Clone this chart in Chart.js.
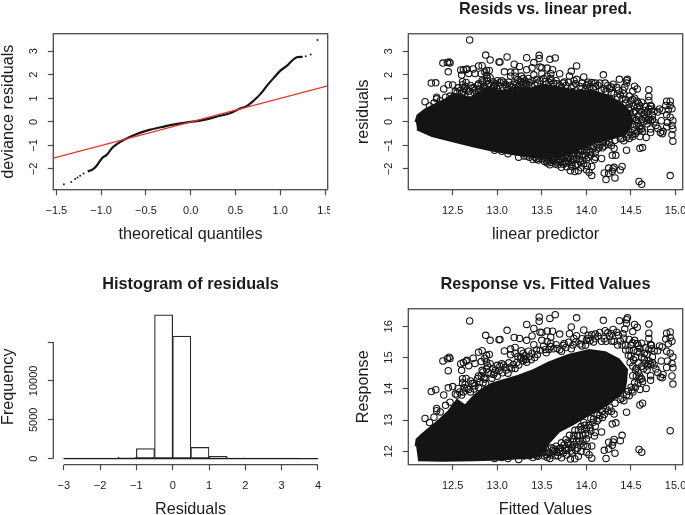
<!DOCTYPE html>
<html>
<head>
<meta charset="utf-8">
<script src="https://cdn.jsdelivr.net/npm/chart.js@4"></script>
<style>
  html, body { margin: 0; padding: 0; background: #fff; }
  body { position: relative; width: 685px; height: 515px; overflow: hidden; }
  canvas { position: absolute; filter: blur(0.35px); }
</style>
</head>
<body>
<canvas id="qq" width="330" height="245" style="left:0;top:0"></canvas>
<canvas id="resid" width="330" height="245" style="left:355px;top:0"></canvas>
<canvas id="hist" width="330" height="245" style="left:0;top:275px"></canvas>
<canvas id="resp" width="330" height="245" style="left:355px;top:275px"></canvas>
<script>
// qq plot
const qqLine = [[-1.534, -1.534], [1.53, 1.53]];
const qqCurve = [[-1.15,-2.1],[-1.097,-2.03],[-1.05,-1.86],[-0.99,-1.54],[-0.935,-1.39],[-0.88,-1.12],[-0.823,-0.94],[-0.75,-0.77],[-0.675,-0.63],[-0.56,-0.455],[-0.45,-0.33],[-0.3,-0.2],[-0.15,-0.085],[0,0],[0.146,0.085],[0.295,0.23],[0.445,0.38],[0.54,0.55],[0.63,0.68],[0.706,0.91],[0.78,1.19],[0.855,1.55],[0.93,1.88],[1.005,2.19],[1.08,2.4],[1.146,2.65],[1.19,2.75],[1.25,2.76]];
const qqTail = [[-1.416,-2.65],[-1.333,-2.55],[-1.29,-2.43],[-1.264,-2.36],[-1.234,-2.29],[-1.196,-2.19],[1.285,2.79],[1.34,2.86],[1.416,3.48]];
const qqXTicks = [-1.5,-1,-0.5,0,0.5,1,1.5];
const qqXLabels = ['−1.5','−1.0','−0.5','0.0','0.5','1.0','1.5'];
const residTicks = [-2,-1,0,1,2,3];
const residLabels = ['−2','−1','0','1','2','3'];

// shared x ticks of the two scatter panels
const predTicks = [12.5,13,13.5,14,14.5,15];
const predLabels = ['12.5','13.0','13.5','14.0','14.5','15.0'];

// histogram
const histMids = [-2.75,-2.25,-1.75,-1.25,-0.75,-0.25,0.25,0.75,1.25,1.75,2.25,2.75,3.25,3.75];
const histCounts = [2,30,60,190,1290,18500,15770,1450,300,110,40,15,1,0];
const histBase = [[-3,0],[4,0]];
const histXTicks = [-3,-2,-1,0,1,2,3,4];
const histXLabels = ['−3','−2','−1','0','1','2','3','4'];
const histYTicks = [0,5000,10000,15000];
const histYLabels = ['0','5000','10000',''];

// solid black mass of overlapping circles, outlines
const residMass = [[12.088,-0.01],[12.11,0.27],[12.19,0.51],[12.31,0.74],[12.42,0.94],[12.51,1.17],[12.6,1.12],[12.7,0.98],[12.79,1.22],[12.9,1.45],[13.02,1.31],[13.13,1.31],[13.24,1.45],[13.39,1.41],[13.5,1.55],[13.69,1.45],[13.88,1.31],[14.06,1.31],[14.25,1.08],[14.4,0.74],[14.48,0.41],[14.51,0.03],[14.48,-0.3],[14.42,-0.54],[14.25,-0.72],[14.1,-0.86],[14.01,-1.01],[13.88,-1.22],[13.73,-1.43],[13.58,-1.5],[13.47,-1.5],[13.2,-1.36],[12.94,-1.19],[12.75,-1.03],[12.49,-0.79],[12.27,-0.58],[12.1,-0.3]];
const respMass = [[12.09,12.16],[12.1,12.37],[12.16,12.53],[12.25,12.75],[12.34,12.96],[12.46,13.28],[12.55,13.62],[12.64,13.44],[12.74,13.76],[12.83,13.97],[12.94,14.15],[13.05,14.24],[13.24,14.4],[13.39,14.56],[13.58,14.83],[13.8,15.07],[14.03,15.22],[14.21,15.15],[14.36,14.93],[14.45,14.61],[14.44,14.24],[14.42,13.94],[14.25,13.55],[14.14,13.33],[13.99,13.12],[13.84,12.87],[13.69,12.64],[13.58,12.3],[13.52,12.0],[13.45,11.85],[13.35,11.81],[13.02,11.75],[12.75,11.73],[12.38,11.71],[12.11,11.73]];

// loose circles around the mass: fitted value, residual, response
const fittedVals = [12.69,12.87,12.92,13.02,13.03,13.11,13.19,13.25,13.33,13.47,13.47,13.41,13.39,13.33,13.08,13.15,13.2,13.15,13.2,13.27,13.29,13.27,13.3,13.32,13.41,13.39,13.5,13.5,13.48,12.39,12.44,12.46,12.47,12.45,12.59,12.62,12.65,12.66,12.6,12.68,12.73,12.75,12.79,12.83,12.88,12.91,12.82,12.86,12.88,12.83,12.79,12.74,12.97,13.03,13.07,13.14,12.61,12.65,12.45,12.5,12.4,12.26,12.31,12.19,12.32,12.32,12.42,12.61,12.88,12.9,12.85,12.92,12.72,12.66,12.58,12.53,12.47,12.36,12.29,12.24,12.56,
13.59,13.65,13.56,13.62,13.6,13.7,13.89,13.83,13.81,13.89,13.97,13.8,13.74,14.02,14.06,14.19,14.15,14.21,14.37,14.45,14.46,14.45,14.43,14.54,14.57,14.52,14.7,14.7,14.7,14.28,14.34,14.42,14.54,14.57,14.62,14.73,14.8,14.85,14.9,14.94,14.89,14.94,14.96,14.92,14.73,14.65,14.72,14.6,14.5,14.48,14.9,14.94,14.97,14.91,14.96,14.9,14.97,14.86,14.85,14.83,14.96,14.97,14.78,14.8,14.84,14.7,14.74,14.72,14.68,14.72,14.72,14.67,14.6,14.55,14.52,14.6,14.62,14.58,14.55,14.65,14.6,14.52,14.56,14.63,14.5,14.48,14.42,14.45,14.6,14.63,14.94,14.59,14.62,
14.1,14,13.95,14.2,14.28,14.38,14.44,13.85,13.7,13.6,13.55,13.45,13.38,13.24,13.18,13.1,13,12.95,12.84,12.79,12.7,12.62,
14.29,14.33,14.17,14.31,14.14,14.09,14.4,14.38,14.31,14.3,14.29,14.25,14.2,14.25,14.32,14.22,14.06,14.03,14,14.06,14.01,13.96,14.04,13.99,13.91,13.87,13.82,13.72,13.65,13.59,13.91,13.97,14.05,14.12,14.2,14.26,14.32,14.38,13.85,13.8,13.75,13.7,13.9,13.94,13.84,13.78,13.62,13.55,13.4,13.24,13.12,12.97,13.47,13.33,13.05];
const residVals = [3.48,2.84,2.63,2.55,2.55,2.76,2.45,2.36,2.73,2.83,2.69,2.52,2.3,2.22,2.13,2.12,2.12,1.94,1.94,1.95,1.84,1.72,1.68,1.62,2,1.75,2.3,2.05,2.33,2.5,2.52,2.55,2.5,2.13,2.21,2.22,2.23,2.25,1.99,2.06,2.25,2.06,2.38,2.39,2.19,2.19,2.05,2.12,1.98,1.76,1.62,1.44,1.55,1.69,1.69,1.55,1.71,1.68,1.58,1.57,1.4,1.65,1.66,0.86,1.05,0.98,1.05,1.58,1.75,1.62,1.5,1.88,1.45,1.35,1.32,1.3,1.1,0.9,0.8,0.68,1.45,
2.66,2.72,2.29,2.22,2.05,2.05,2.38,2.15,1.95,1.81,1.91,1.69,1.65,1.69,1.67,2,1.65,1.65,1.81,1.76,1.81,1.65,1.48,1.52,1.4,1.31,1.37,1.08,0.91,1.48,1.47,1.2,1.01,0.88,0.84,0.66,0.42,0.49,0.88,0.88,0.7,0.7,0.56,0.52,0.55,0.49,0.7,0.7,0.9,0.75,0.3,0.2,0.05,-0.02,-0.15,-0.22,-0.3,-0.4,-0.5,-0.45,-0.55,-0.82,-0.15,-0.28,0.05,0.2,0.28,0.05,-0.08,-0.3,-0.45,-0.66,-0.62,-0.5,-0.62,-0.3,0.1,0.25,0.45,0.3,0.55,0.2,-0.15,-0.4,-0.45,-0.7,-0.8,-1.2,-1.12,-1.09,-2.28,-2.53,-2.65,
1.5,1.55,1.42,1.4,1.25,1.15,0.95,1.55,1.55,1.75,1.6,1.65,1.55,1.52,1.6,1.5,1.4,1.7,1.35,1.25,1.2,1.28,
-1.42,-1.42,-1.55,-1.12,-1.1,-1.6,-1.89,-2.04,-1.93,-2,-2.1,-1.96,-2.17,-2.18,-2.38,-2.45,-2.28,-2.14,-2.03,-1.89,-1.86,-1.64,-1.29,-1.43,-2.07,-2.11,-2.07,-1.93,-1.79,-1.82,-1.22,-1.05,-1,-0.95,-1.02,-0.85,-0.78,-0.72,-1.45,-1.7,-1.55,-1.7,-1.8,-1.95,-1.9,-1.9,-1.6,-1.65,-1.6,-1.5,-1.35,-1.2,-1.55,-1.45,-1.25];
const responseVals = [16.17,15.71,15.55,15.57,15.58,15.87,15.64,15.61,16.06,16.3,16.16,15.93,15.69,15.55,15.21,15.27,15.32,15.09,15.14,15.22,15.13,14.99,14.98,14.94,15.41,15.14,15.8,15.55,15.81,14.89,14.96,15.01,14.97,14.58,14.8,14.84,14.88,14.91,14.59,14.74,14.98,14.81,15.17,15.22,15.07,15.1,14.87,14.98,14.86,14.59,14.41,14.18,14.52,14.72,14.76,14.69,14.32,14.33,14.03,14.07,13.8,13.91,13.97,13.05,13.37,13.3,13.47,14.19,14.63,14.52,14.35,14.8,14.17,14.01,13.9,13.83,13.57,13.26,13.09,12.92,14.01,
16.25,16.37,15.85,15.84,15.65,15.75,16.27,15.98,15.76,15.7,15.88,15.49,15.39,15.71,15.73,16.19,15.8,15.86,16.18,16.21,16.27,16.1,15.91,16.06,15.97,15.83,16.07,15.78,15.61,15.76,15.81,15.62,15.55,15.45,15.46,15.39,15.22,15.34,15.78,15.82,15.59,15.64,15.52,15.44,15.28,15.14,15.42,15.3,15.4,15.23,15.2,15.14,15.02,14.89,14.81,14.68,14.67,14.46,14.35,14.38,14.41,14.15,14.63,14.52,14.89,14.9,15.02,14.77,14.6,14.42,14.27,14.01,13.98,14.05,13.9,14.3,14.72,14.83,15,14.95,15.15,14.72,14.41,14.23,14.05,13.78,13.62,13.25,13.48,13.54,12.66,12.06,11.97,
15.6,15.55,15.37,15.6,15.53,15.53,15.39,15.4,15.25,15.35,15.15,15.1,14.93,14.76,14.78,14.6,14.4,14.65,14.19,14.04,13.9,13.9,
12.87,12.91,12.62,13.19,13.04,12.49,12.51,12.34,12.38,12.3,12.19,12.29,12.03,12.07,11.94,11.77,11.78,11.89,11.97,12.17,12.15,12.32,12.75,12.56,11.84,11.76,11.75,11.79,11.86,11.77,12.69,12.92,13.05,13.17,13.18,13.41,13.54,13.66,12.4,12.1,12.2,12,12.1,11.99,11.94,11.88,12.02,11.9,11.8,11.74,11.77,11.77,11.92,11.88,11.8];
const respTicks = [12,13,14,15,16];
const respLabels = ['12','13','14','15','16'];

// denser circles hugging the mass: [fitted, residual, response]
const edgeCircles = [
  [12.55,1.25,13.8],[12.63,1.4,14.03],[12.68,1.3,13.98],[12.75,1.35,14.1],[12.78,1.55,14.33],[12.82,1.6,14.42],[12.86,1.45,14.31],[12.93,1.55,14.48],[12.98,1.62,14.6],[13,1.75,14.75],
  [13.06,1.45,14.51],[13.12,1.38,14.5],[13.16,1.48,14.64],[13.22,1.62,14.84],[13.26,1.7,14.96],[13.29,1.6,14.89],[13.33,1.52,14.85],[13.36,1.68,15.04],[13.42,1.58,15],[13.48,1.75,15.23],
  [13.52,1.85,15.37],[13.56,1.95,15.51],[13.58,1.68,15.26],[13.63,1.65,15.28],[13.67,1.62,15.29],[13.72,1.48,15.2],[13.77,1.55,15.32],[13.83,1.45,15.28],[13.88,1.62,15.5],[13.93,1.5,15.43],
  [13.99,1.4,15.39],[14.04,1.5,15.54],[14.08,1.42,15.5],[14.13,1.55,15.68],[14.17,1.35,15.52],[14.22,1.3,15.52],[14.26,1.42,15.68],[14.31,1.2,15.51],[14.35,1.05,15.4],[14.4,1,15.4],
  [14.44,0.8,15.24],[14.47,0.6,15.07],[14.5,0.55,15.05],[14.53,0.4,14.93],[14.56,0.1,14.66],[14.49,0.35,14.84],
  [14.52,-0.1,14.42],[14.55,0.05,14.6],[14.58,-0.05,14.53],[14.6,-0.2,14.4],[14.62,-0.3,14.32],[14.64,0,14.64],[14.66,0.15,14.81],[14.68,0.05,14.73],[14.58,-0.4,14.18],[14.54,-0.35,14.19],
  [14.51,-0.55,13.96],[14.47,-0.55,13.92],[14.45,-0.65,13.8],[14.4,-0.7,13.7],[14.62,0.4,15.02],[14.68,0.42,15.1],[14.7,0.1,14.8],[14.74,0.1,14.84],[14.76,0,14.76],[14.57,0.62,15.19],[14.53,0.7,15.23],
  [13.3,-1.45,11.85],[13.36,-1.5,11.86],[13.44,-1.58,11.86],[13.5,-1.55,11.95],[13.53,-1.68,11.85],[13.57,-1.6,11.97],[13.6,-1.72,11.88],[13.63,-1.55,12.08],[13.67,-1.7,11.97],[13.68,-1.82,11.86],
  [13.71,-1.6,12.11],[13.74,-1.8,11.94],[13.76,-1.68,12.08],[13.79,-1.5,12.29],[13.82,-1.6,12.22],[13.84,-1.72,12.12],[13.86,-1.35,12.51],[13.89,-1.55,12.34],[13.92,-1.42,12.5],[13.93,-1.7,12.23],
  [13.95,-1.25,12.7],[13.98,-1.15,12.83],[14,-1.28,12.72],[14.02,-1.5,12.52],[14.07,-1.15,12.92],[14.1,-1.3,12.8],[14.15,-1,13.15],[14.18,-0.9,13.28],[14.22,-0.85,13.37],[14.28,-1,13.28],
  [13.58,-1.65,11.93],[13.61,-1.5,12.11],[13.64,-1.65,11.99],[13.66,-1.5,12.16],[13.69,-1.62,12.07],[13.72,-1.45,12.27],[13.73,-1.72,12.01],[13.77,-1.4,12.37],[13.78,-1.75,12.03],[13.8,-1.55,12.25],
  [13.81,-1.3,12.51],[13.83,-1.82,12.01],[13.85,-1.55,12.3],[13.87,-1.2,12.67],[13.88,-1.85,12.03],[13.9,-1.4,12.5],[13.92,-1.6,12.32],[13.94,-1.15,12.79],[13.96,-1.45,12.51],[13.97,-1.78,12.19],
  [14,-1.6,12.4],[14.03,-1.2,12.83],[14.05,-1.4,12.65],[14.08,-1.05,13.03],[14.1,-1.5,12.6],[14.12,-1.15,12.97],[14.18,-1.1,13.08],[14.24,-0.95,13.29],[13.56,-1.75,11.81],[13.52,-1.55,11.97],[13.46,-1.62,11.84],[13.42,-1.5,11.92],
  [12.6,1.2,13.8],[12.64,1.5,14.14],[12.7,1.55,14.25],[12.74,1.25,13.99],[12.8,1.4,14.2],[12.84,1.7,14.54],[12.87,1.3,14.17],[12.89,1.85,14.74],[12.94,1.4,14.34],[12.96,1.5,14.46],
  [13.02,1.55,14.57],[13.05,1.75,14.8],[13.09,1.6,14.69],[13.13,1.7,14.83],[13.2,1.45,14.65],[13.23,1.8,15.03],[13.31,1.75,15.06],[13.35,1.85,15.2],[13.44,1.8,15.24],[13.54,1.72,15.26],
  [13.6,1.85,15.45],[13.66,1.75,15.41],[13.75,1.7,15.45],[13.86,1.75,15.61],[13.95,1.65,15.6],[14.02,1.6,15.62],[14.1,1.65,15.75],[14.24,1.55,15.79],[14.3,1.6,15.9],[14.36,1.35,15.71],
  [14.41,1.35,15.76],[14.48,1.1,15.58],[14.52,0.95,15.47],[14.58,0.8,15.38],[14.66,0.65,15.31],[14.7,0.55,15.25],[14.76,0.45,15.21],[14.82,0.55,15.37]
];

const INK = '#1c1c1c';
const FRAME = '#4a4a4a';
const FONT = '"Liberation Sans", Arial, sans-serif';

const toXY = pairs => pairs.map(p => ({ x: p[0], y: p[1] }));
const zipXY = (xs, ys) => xs.map((x, i) => ({ x: x, y: ys[i] }));
const allFitted = fittedVals.concat(edgeCircles.map(e => e[0]));
const allResid = residVals.concat(edgeCircles.map(e => e[1]));
const allResponse = responseVals.concat(edgeCircles.map(e => e[2]));

// R style axis: ticks come from the arrays above, y labels stand on end
const makeAxis = (horizontal, min, max, ticks, labels, title, pad) => ({
  type: 'linear',
  min: min,
  max: max,
  offset: false,
  afterBuildTicks: s => { s.ticks = ticks.map(v => ({ value: v })); },
  afterFit: s => {
    // tick labels may hang past the plot, as in R, so no extra margin for them
    s.paddingLeft = s.paddingRight = s.paddingTop = s.paddingBottom = 0;
    if (horizontal) { s.height = 55.3; } else { s.width = 53.3; }
  },
  border: { display: false },
  grid: { display: true, offset: false, drawOnChartArea: false, drawTicks: true, tickLength: 5.5, tickColor: FRAME, tickWidth: 1.2 },
  ticks: {
    autoSkip: false,
    color: INK,
    font: { family: FONT, size: 11 },
    padding: pad,
    minRotation: horizontal ? 0 : 90,
    maxRotation: horizontal ? 0 : 90,
    crossAlign: horizontal ? 'near' : 'center',
    callback: (v, i) => labels[i]
  },
  title: {
    display: true,
    text: title,
    color: INK,
    font: { family: FONT, size: 16.2, lineHeight: 1 },
    padding: { top: 0, bottom: horizontal ? 2.5 : -1 }
  }
});

const baseOptions = (titleText, scales) => ({
  responsive: false,
  animation: false,
  events: [],
  layout: { autoPadding: false, padding: { left: 0, right: 2.3, top: titleText ? 0 : 33.7, bottom: 0 } },
  plugins: {
    legend: { display: false },
    tooltip: { enabled: false },
    title: {
      display: !!titleText,
      text: titleText,
      fullSize: false,
      color: INK,
      font: { family: FONT, size: 16.3, weight: 'bold', lineHeight: 1.2 },
      padding: { top: -0.3, bottom: 14.5 }
    }
  },
  scales: scales
});

// closed box round the plot, or the detached axis lines for the histogram
const boxFrame = {
  id: 'boxFrame',
  afterDraw(chart) {
    const c = chart.ctx, a = chart.chartArea;
    c.save();
    c.strokeStyle = FRAME;
    c.lineWidth = 1.3;
    c.strokeRect(a.left, a.top, a.right - a.left, a.bottom - a.top);
    c.restore();
  }
};
const axisLines = {
  id: 'axisLines',
  afterDraw(chart) {
    const c = chart.ctx, a = chart.chartArea, sx = chart.scales.x, sy = chart.scales.y;
    c.save();
    c.strokeStyle = FRAME;
    c.lineWidth = 1.3;
    c.beginPath();
    c.moveTo(sx.getPixelForValue(histXTicks[0]), a.bottom);
    c.lineTo(sx.getPixelForValue(histXTicks[histXTicks.length - 1]), a.bottom);
    c.moveTo(a.left, sy.getPixelForValue(histYTicks[0]));
    c.lineTo(a.left, sy.getPixelForValue(histYTicks[histYTicks.length - 1]));
    c.stroke();
    c.restore();
  }
};

const circles = (xs, ys) => ({
  data: zipXY(xs, ys),
  showLine: false,
  pointStyle: 'circle',
  pointRadius: 3.2,
  pointBorderWidth: 1.1,
  pointBorderColor: '#161616',
  pointBackgroundColor: 'rgba(0,0,0,0)'
});
const mass = pairs => ({
  data: toXY(pairs),
  showLine: true,
  fill: 'shape',
  backgroundColor: '#141414',
  borderColor: '#141414',
  borderWidth: 3,
  pointRadius: 0
});

new Chart(document.getElementById('qq'), {
  type: 'scatter',
  data: { datasets: [
    { data: toXY(qqLine), showLine: true, borderColor: '#e23a2c', borderWidth: 1.3, pointRadius: 0 },
    { data: toXY(qqCurve), showLine: true, cubicInterpolationMode: 'monotone', borderColor: '#161616', borderWidth: 2.2, pointRadius: 0 },
    { data: toXY(qqTail), showLine: false, pointRadius: 1, pointBorderWidth: 0, pointBackgroundColor: '#222' }
  ] },
  options: baseOptions('', {
    x: makeAxis(true, -1.534, 1.53, qqXTicks, qqXLabels, 'theoretical quantiles', 9),
    y: makeAxis(false, -2.88, 3.746, residTicks, residLabels, 'deviance residuals', 7.5)
  }),
  plugins: [boxFrame]
});

new Chart(document.getElementById('resid'), {
  type: 'scatter',
  data: { datasets: [circles(allFitted, allResid), mass(residMass)] },
  options: baseOptions('Resids vs. linear pred.', {
    x: makeAxis(true, 12.002, 15.08, predTicks, predLabels, 'linear predictor', 9),
    y: makeAxis(false, -2.88, 3.746, residTicks, residLabels, 'residuals', 7.5)
  }),
  plugins: [boxFrame]
});

new Chart(document.getElementById('hist'), {
  type: 'bar',
  data: { datasets: [
    { type: 'line', data: toXY(histBase), borderColor: INK, borderWidth: 1.3, pointRadius: 0 },
    {
      data: zipXY(histMids, histCounts),
      backgroundColor: '#fff',
      borderColor: '#2a2a2a',
      borderWidth: 1.2,
      borderSkipped: false,
      barPercentage: 1,
      categoryPercentage: 1,
      grouped: false
    }
  ] },
  options: baseOptions('Histogram of residuals', {
    x: makeAxis(true, -3.287, 4.268, histXTicks, histXLabels, 'Residuals', 9),
    y: makeAxis(false, -771, 19280, histYTicks, histYLabels, 'Frequency', -1.5)
  }),
  plugins: [axisLines]
});

new Chart(document.getElementById('resp'), {
  type: 'scatter',
  data: { datasets: [circles(allFitted, allResponse), mass(respMass)] },
  options: baseOptions('Response vs. Fitted Values', {
    x: makeAxis(true, 12.002, 15.08, predTicks, predLabels, 'Fitted Values', 9),
    y: makeAxis(false, 11.57, 16.56, respTicks, respLabels, 'Response', 7.7)
  }),
  plugins: [boxFrame]
});
</script>
</body>
</html>
